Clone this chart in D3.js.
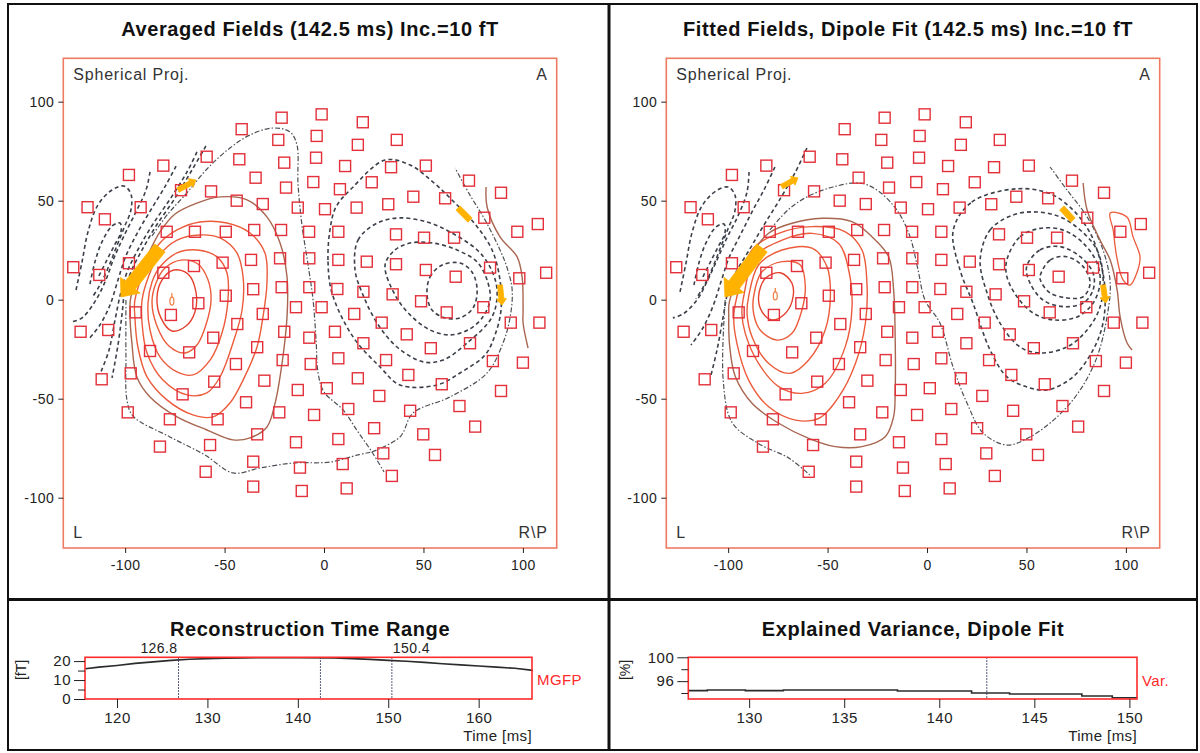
<!DOCTYPE html>
<html>
<head>
<meta charset="utf-8">
<title>Averaged and fitted fields</title>
<script src="https://cdn.jsdelivr.net/npm/d3@7"></script>
<style>
  body { margin: 0; background: #fff; }
  svg { display: block; font-family: "Liberation Sans", Arial, sans-serif; }
</style>
</head>
<body>
<svg id="chart" width="1200" height="753"></svg>
<script>
// ---------- data (map units: mm on the spherical projection) ----------
const mapXDomain = [-131.1, 117];
const mapYDomain = [121.9, -125.4];
const mapTicks = [-100, -50, 0, 50, 100];

// sensor positions, same for both maps
const sensorPos = [
  [-21.3,91.9],[-1.2,93.6],[-41.4,86.1],[-23.0,80.7],[-3.7,82.7],[17.0,78.2],[-59.0,72.2],[-42.6,70.9],[-20.0,69.2],[-4.0,71.7],
  [10.6,67.5],[-80.8,67.7],[-98.1,63.0],[-34.4,61.6],[-19.1,56.6],[-5.4,59.4],[8.0,55.8],[-56.8,54.7],[-71.9,55.3],[-118.9,46.7],
  [-110.2,40.6],[-92.2,46.7],[-43.9,50.0],[-30.8,48.3],[-13.2,46.5],[0.5,45.7],[16.4,46.5],[-79.1,34.3],[-64.9,34.3],[-49.4,34.3],
  [-35.1,35.2],[-21.6,35.2],[-7.5,34.3],[7.2,34.3],[-126.1,16.4],[-113.0,12.5],[-98.1,18.4],[-80.8,13.6],[-65.4,17.0],[-51.0,18.7],
  [-36.7,20.1],[-22.1,20.9],[-7.4,20.9],[7.2,20.1],[-49.4,2.0],[-35.6,5.3],[-21.3,6.3],[-7.4,6.3],[6.7,5.4],[-63.2,-1.8],
  [-77.0,-7.7],[-94.7,-6.4],[-122.4,-16.2],[-108.5,-15.3],[-30.8,-7.2],[-43.6,-12.3],[-14.1,-3.8],[-1.2,-3.8],[15.2,-7.2],[-20.0,-16.2],
  [-7.4,-19.2],[5.5,-16.2],[-55.7,-19.2],[-87.5,-25.9],[-67.8,-26.6],[-33.6,-24.0],[-44.3,-32.5],[-20.8,-30.5],[-6.7,-32.5],[7.2,-29.6],
  [17.0,-39.7],[-111.8,-40.2],[-97.2,-37.2],[-55.2,-41.4],[-30.0,-40.9],[-13.2,-45.6],[1.4,-44.7],[-71.1,-47.8],[-39.2,-51.8],[-22.5,-56.9],
  [-5.0,-58.2],[12.2,-55.2],[-98.7,-56.9],[-77.5,-60.4],[-53.5,-60.4],[-33.6,-68.0],[-14.1,-72.0],[7.2,-70.4],[-82.5,-74.2],[-57.3,-73.4],
  [-35.6,-81.8],[-12.1,-84.8],[9.4,-83.0],[-59.5,-86.9],[-35.6,-94.4],[-11.2,-96.6],[11.4,-95.3],
  [19.5,89.6],[36.6,80.7],[33.7,66.9],[51.2,67.7],[24.0,59.3],[44.9,52.0],[60.9,51.2],[72.9,60.1],[89.0,54.0],[32.3,48.2],
  [80.6,41.4],[97.2,34.3],[107.5,38.2],[36.2,33.0],[50.3,31.3],[65.4,31.3],[21.5,19.2],[36.2,17.9],[51.2,15.0],[66.2,11.6],
  [83.5,16.2],[98.2,10.8],[111.7,13.6],[19.8,4.0],[34.5,2.7],[48.8,-0.8],[61.7,-6.4],[80.1,-3.8],[93.9,-11.6],[108.3,-11.6],
  [29.0,-11.6],[41.6,-17.5],[53.7,-24.5],[73.4,-22.0],[84.9,-31.0],[100.0,-31.8],[19.8,-22.0],[31.2,-30.5],[42.4,-38.0],[59.2,-42.7],
  [89.0,-46.1],[27.8,-48.6],[43.3,-56.1],[68.1,-53.7],[25.2,-64.9],[49.9,-68.0],[76.0,-64.1],[29.8,-77.6],[55.8,-78.4],[34.1,-89.0]
];

// averaged fields: positive isofield lines (closed)
const avgPositive = [
  [[-81.5,9.9],[-75.5,15.0],[-68.4,13.0],[-64.4,3.9],[-64.9,-6.2],[-69.4,-13.3],[-76.5,-15.8],[-82.0,-9.2],[-84.0,0.9]],
  [[-84.5,8.4],[-80.0,16.0],[-71.9,20.0],[-63.4,18.0],[-58.3,9.9],[-56.8,-0.2],[-59.4,-12.8],[-63.9,-22.9],[-69.9,-26.9],[-78.0,-23.4],[-84.0,-13.3],[-86.5,-1.2]],
  [[-88.5,-1.7],[-86.5,8.9],[-82.5,16.5],[-73.9,23.6],[-63.9,25.1],[-53.8,21.6],[-48.8,13.5],[-48.3,-0.2],[-51.3,-16.8],[-57.3,-30.5],[-65.9,-38.0],[-73.9,-36.5],[-82.5,-28.9],[-87.5,-15.3]],
  [[-91.5,-0.2],[-91.5,-11.8],[-89.0,-26.9],[-81.0,-40.6],[-68.9,-48.1],[-58.9,-47.1],[-52.3,-39.0],[-45.8,-21.9],[-41.2,-5.2],[-40.7,11.5],[-43.8,23.6],[-52.3,31.2],[-62.4,32.7],[-73.9,30.1],[-83.5,21.6],[-88.5,11.0]],
  [[-95.1,-0.2],[-95.1,-8.7],[-93.6,-23.9],[-89.0,-39.0],[-79.0,-50.6],[-65.9,-58.2],[-55.8,-59.2],[-47.3,-52.2],[-40.7,-40.6],[-33.7,-23.9],[-30.7,-8.7],[-28.7,8.4],[-29.7,23.6],[-37.2,33.7],[-48.8,38.7],[-62.4,39.2],[-73.9,35.2],[-82.5,28.6],[-89.0,17.5]]
];
const avgPositiveOuter = [
  [-97.1,1.4],[-97.6,-6.7],[-96.6,-21.9],[-94.1,-39.0],[-87.5,-49.1],[-73.9,-59.2],[-58.9,-65.8],[-45.8,-70.8],[-37.2,-69.8],[-28.7,-64.3],
  [-24.6,-52.2],[-21.1,-32.0],[-18.6,-8.7],[-18.6,11.5],[-22.1,28.6],[-28.7,41.8],[-38.7,50.4],[-52.3,51.9],[-63.9,48.8],[-74.9,43.3],
  [-82.5,34.2],[-88.5,22.6]
];
// averaged fields: negative isofield lines, right hemisphere (closed)
const avgNegativeRight = [
  [[4.0,3.4],[2.0,20.0],[3.0,35.2],[6.0,46.8],[14.1,56.4],[30.7,70.5],[43.3,68.0],[54.8,59.4],[64.4,50.3],[75.5,38.7],[84.5,25.1],[88.5,9.9],[89.0,-5.2],[86.0,-17.8],[81.0,-27.9],[68.4,-37.0],[56.8,-43.1],[38.2,-43.1],[28.2,-34.0],[14.6,-18.8]],
  [[15.6,15.0],[17.1,30.1],[26.7,38.7],[38.2,41.3],[51.8,39.2],[63.4,34.2],[77.0,25.1],[83.5,16.5],[87.0,4.9],[84.5,-8.7],[71.9,-21.9],[59.9,-30.5],[49.8,-31.4],[36.7,-23.9],[26.7,-11.8],[19.6,2.4]],
  [[30.7,17.5],[35.7,25.1],[43.3,28.6],[54.8,28.6],[66.9,25.1],[77.0,19.0],[82.0,9.9],[83.5,-0.2],[79.5,-9.2],[72.4,-15.3],[63.4,-17.8],[53.3,-15.3],[43.3,-7.7],[35.7,2.4]],
  [[51.8,2.4],[53.3,11.5],[59.4,17.5],[68.4,18.5],[74.4,14.0],[77.0,4.9],[74.9,-4.2],[68.4,-9.2],[60.9,-9.2],[54.3,-5.2]]
];
// averaged fields: negative isofield lines, far left (open)
const avgNegativeLeft = [
  [[-59.4,77.6],[-66.4,65.5],[-75.5,50.4],[-84.5,37.2],[-91.5,25.1],[-97.1,14.0],[-100.1,4.9],[-101.6,-7.7],[-103.6,-22.9],[-106.6,-39.5]],
  [[-63.9,74.6],[-68.9,64.5],[-77.0,51.4],[-86.0,38.2],[-93.1,26.1],[-98.6,15.0],[-102.1,3.9],[-105.1,-10.3],[-108.1,-25.4],[-112.2,-36.5]],
  [[-74.4,67.5],[-79.5,57.9],[-86.5,46.3],[-93.6,34.2],[-99.6,22.1],[-103.6,10.0],[-107.6,-2.7],[-112.7,-12.8],[-118.7,-20.4]],
  [[-87.5,64.5],[-89.5,55.4],[-94.6,44.3],[-100.6,32.2],[-105.6,21.1],[-109.7,10.0],[-114.7,-0.2],[-121.7,-9.2],[-126.8,-11.2]],
  [[-124.7,4.9],[-121.7,19.0],[-118.7,34.2],[-113.7,47.8],[-106.6,55.4],[-100.6,57.4],[-97.1,53.4],[-97.1,45.3],[-100.6,36.2],[-104.6,26.1],[-108.6,16.0],[-112.7,7.4],[-116.7,0.9]],
  [[-117.7,7.9],[-115.2,19.0],[-111.7,29.1],[-106.6,37.2],[-102.6,38.7],[-102.1,34.2],[-105.6,27.1],[-109.7,19.0],[-113.2,12.0]]
];
// averaged fields: zero lines (open)
const avgZero = [
  [[-99.6,-0.2],[-99.6,-28.9],[-99.1,-50.6],[-96.1,-58.7],[-77.5,-69.3],[-59.9,-78.4],[-45.8,-87.5],[-32.2,-85.0],[-15.6,-82.5],[3.0,-82.0],[17.1,-78.4],[24.1,-76.9]],
  [[-86.5,32.2],[-78.5,43.3],[-69.4,53.4],[-58.4,66.5],[-47.3,76.6],[-37.2,83.2],[-25.7,86.7],[-17.1,84.7],[-13.6,78.1],[-13.1,58.9],[-11.1,37.7],[-8.0,17.5],[-5.5,-0.2],[-4.0,-20.4],[-3.0,-37.0],[0.0,-46.6],[9.6,-55.7],[17.1,-66.8],[24.1,-76.9],[30.2,-87.0]],
  [[24.1,-76.9],[38.2,-69.3],[44.8,-57.2],[63.4,-49.1],[82.0,-37.0],[90.0,-21.9],[93.6,-8.7],[94.6,4.9],[92.1,16.0],[88.5,25.1],[81.0,40.2],[73.4,52.8],[65.9,66.5]]
];
const avgPositiveEdge = [[81.5,56.9],[82.0,46.8],[88.5,31.7],[97.1,21.6],[99.6,11.5],[100.1,-5.2],[100.1,-11.8],[102.6,-24.4]];
const avgArrows = [
  { from: [-82.5,26.1], to: [-102.1,1.4], kind: 'large' },
  { from: [-73.4,55.4], to: [-64.4,60.4], kind: 'small' },
  { from: [67.4,46.3], to: [73.4,40.2], kind: 'bar' },
  { from: [88.5,7.4], to: [89.5,-2.7], kind: 'small' }
];
const avgDipole = [-76.5, -0.2];

// fitted fields
const fitPositive = [
  [[-84.7,1.5],[-81.3,10.8],[-73.8,13.6],[-67.9,8.3],[-67.9,-1.0],[-72.1,-7.7],[-78.0,-10.2],[-83.0,-6.0]],
  [[-87.2,1.5],[-83.0,14.1],[-72.9,19.2],[-63.7,17.5],[-61.2,6.6],[-62.9,-5.2],[-67.9,-17.0],[-75.5,-20.4],[-83.9,-15.3],[-87.2,-6.9]],
  [[-89.7,1.5],[-84.7,17.5],[-72.9,25.1],[-57.8,26.0],[-50.3,16.7],[-48.6,1.5],[-51.2,-15.3],[-59.5,-30.5],[-68.8,-37.2],[-79.6,-32.2],[-88.0,-18.7],[-90.5,-6.9]],
  [[-92.2,1.5],[-86.4,21.7],[-72.9,30.1],[-57.8,33.5],[-44.4,28.4],[-39.4,15.0],[-37.7,-3.5],[-41.1,-23.7],[-51.2,-42.2],[-62.9,-47.3],[-74.6,-43.9],[-84.7,-32.2],[-91.4,-17.0],[-93.1,-6.9]],
  [[-95.6,1.5],[-88.0,25.1],[-74.6,33.5],[-57.8,36.9],[-41.1,34.3],[-32.7,25.1],[-30.2,8.3],[-31.0,-11.9],[-36.0,-32.2],[-44.4,-49.1],[-54.5,-60.0],[-66.2,-60.8],[-79.6,-54.1],[-89.7,-40.6],[-95.6,-22.1],[-97.2,-8.6]]
];
const fitPositiveOuter = [
  [-79.5,33.7],[-67.9,38.6],[-52.8,41.1],[-37.7,39.4],[-27.7,31.8],[-19.3,21.7],[-16.8,4.9],[-16.0,-20.3],[-16.0,-45.6],[-16.8,-59.1],
  [-21.0,-69.2],[-32.7,-74.2],[-46.1,-74.2],[-59.5,-70.0],[-74.6,-62.4],[-88.0,-52.3],[-96.4,-38.8],[-99.2,-23.7],[-99.7,-8.6],[-99.2,-0.2],[-87.5,24.1]
];
const fitNegativeRight = [
  [[13.2,35.2],[22.5,49.3],[45.1,56.0],[61.9,53.5],[73.4,45.3],[82.0,33.7],[87.0,20.0],[89.5,4.9],[88.5,-11.8],[83.5,-25.4],[73.4,-39.0],[60.4,-45.6],[50.3,-44.1],[40.2,-39.0],[31.7,-25.4],[23.1,-1.7],[16.6,15.0]],
  [[26.7,20.0],[31.7,35.2],[43.3,42.8],[55.3,44.3],[66.9,41.8],[77.0,35.2],[85.5,25.1],[88.5,11.5],[87.0,-3.7],[80.5,-15.3],[70.4,-23.9],[56.8,-26.9],[46.8,-23.9],[36.7,-11.8],[30.2,3.4]],
  [[40.1,20.0],[46.8,31.8],[56.8,36.0],[68.4,35.2],[78.5,28.6],[85.5,18.5],[87.0,8.4],[83.5,-1.7],[75.5,-8.7],[63.4,-10.2],[53.3,-6.7],[45.3,1.4],[40.2,11.5]],
  [[50.1,16.7],[56.8,25.1],[66.9,26.8],[77.0,21.7],[83.5,13.5],[83.5,4.9],[78.5,-1.7],[68.4,-3.5],[58.4,-0.2],[51.8,8.4]],
  [[56.8,11.6],[61.9,20.0],[70.3,21.7],[78.5,16.7],[82.0,8.4],[78.5,1.5],[70.3,0.9],[61.9,3.4],[57.7,8.4]]
];
const fitNegativeLeft = [
  [[-60.4,76.6],[-66.4,64.0],[-74.4,50.0],[-82.5,36.9],[-89.5,24.9],[-96.1,13.8],[-100.1,3.9],[-102.6,-9.2],[-105.6,-25.4],[-108.6,-38.0]],
  [[-76.5,67.0],[-81.5,56.4],[-87.5,45.3],[-93.6,33.2],[-99.6,21.1],[-103.6,9.0],[-107.6,-3.2],[-112.7,-14.3],[-118.7,-22.9]],
  [[-89.5,64.5],[-90.5,54.4],[-94.6,43.3],[-100.6,31.2],[-105.6,20.1],[-110.7,9.0],[-115.7,-0.2],[-122.7,-7.2],[-127.8,-9.2]],
  [[-124.2,3.9],[-121.2,18.5],[-118.2,33.7],[-113.2,47.3],[-106.1,54.9],[-100.1,56.9],[-96.6,52.9],[-96.6,44.8],[-100.1,35.7],[-104.1,25.6],[-108.1,15.5],[-112.2,6.9],[-116.2,0.4]],
  [[-117.2,7.4],[-114.7,18.5],[-111.2,28.6],[-106.1,36.7],[-102.1,38.2],[-101.6,33.7],[-105.1,26.6],[-109.2,18.5],[-112.7,11.5]]
];
const fitZero = [
  [[-79.0,35.2],[-69.9,45.3],[-60.4,51.9],[-47.3,56.9],[-33.7,58.9],[-25.2,55.4],[-17.1,47.8],[-12.1,40.2],[-8.0,30.1],[-4.5,15.0],[-1.0,-0.2],[6.5,-11.8],[13.1,-34.0],[20.1,-52.2],[28.2,-67.3],[40.2,-73.4],[51.8,-69.3],[65.4,-59.2],[77.0,-45.6],[85.5,-28.9],[90.5,-8.7],[92.1,8.4],[88.5,25.1],[80.5,41.8],[70.4,55.4],[61.9,67.0]],
  [[-101.5,-0.2],[-102.5,-40.6],[-98.0,-62.0],[-85.0,-72.5],[-69.5,-80.0],[-59.0,-88.5]]
];
const fitPositiveEdge = [[78.5,58.9],[80.5,45.3],[87.0,30.1],[92.1,20.0],[95.6,4.9],[97.1,-8.7],[100.6,-21.9],[103.1,-25.4]];
const fitPositiveIsland = [[92.1,43.8],[100.5,41.8],[103.6,31.7],[107.1,21.6],[105.5,13.5],[102.1,7.4],[98.6,10.0],[95.4,21.6],[93.6,35.2]];
const fitArrows = [
  { from: [-83.0,26.1], to: [-101.6,1.4], kind: 'large' },
  { from: [-73.1,57.1], to: [-64.9,61.5], kind: 'small' },
  { from: [67.8,46.3], to: [73.4,40.2], kind: 'bar' },
  { from: [88.5,7.4], to: [89.9,-1.7], kind: 'small' }
];
const fitDipole = [-76.3, 2.4];

// time courses
const mgfpTime  = [116.5, 118, 120, 122, 124, 126, 128, 130, 132, 134, 136, 140, 144, 146, 148, 150, 152, 154, 156, 158, 160, 162, 164, 166];
const mgfpValue = [16.0, 16.8, 17.7, 18.8, 19.6, 20.4, 21.0, 21.3, 21.5, 21.7, 21.8, 21.8, 21.7, 21.3, 20.9, 20.4, 19.9, 19.3, 18.6, 18.0, 17.4, 16.8, 16.2, 15.1];
const rangeMarks = [126.8, 142.5, 150.4];
const varTime  = [126.8, 127.8, 129.8, 131.8, 137.8, 141.7, 143.7, 147.5, 149.1, 150.4];
const varValue = [94.4, 94.5, 94.4, 94.5, 94.35, 94.0, 93.85, 93.5, 93.2, 93.15];
const varMarks = [142.5];

// ---------- drawing ----------
const svg = d3.select('#chart');
svg.append('rect').attr('width', 1200).attr('height', 753).attr('fill', '#fff');

function styleAxis(sel, size) {
  sel.select('.domain').remove();
  sel.selectAll('.tick line').attr('stroke', '#222');
  sel.selectAll('.tick text').attr('fill', '#222').attr('font-size', size).attr('letter-spacing', 0.5);
  sel.attr('font-family', null);
}

function arrowPath(p0, p1, kind) {
  const spec = { large: [13, 15, 25], small: [5, 6, 10], bar: [6, 0, 0] }[kind];
  const [w, hl, hw] = spec;
  const dx = p1[0] - p0[0], dy = p1[1] - p0[1];
  const L = Math.hypot(dx, dy), ux = dx / L, uy = dy / L, nx = -uy, ny = ux;
  const nk = L - hl;
  const pts = [
    [p0[0] + nx * w / 2, p0[1] + ny * w / 2],
    [p0[0] + ux * nk + nx * w / 2, p0[1] + uy * nk + ny * w / 2]
  ];
  if (hl > 0) {
    pts.push([p0[0] + ux * nk + nx * hw / 2, p0[1] + uy * nk + ny * hw / 2]);
    pts.push([p1[0], p1[1]]);
    pts.push([p0[0] + ux * nk - nx * hw / 2, p0[1] + uy * nk - ny * hw / 2]);
  }
  pts.push([p0[0] + ux * nk - nx * w / 2, p0[1] + uy * nk - ny * w / 2]);
  pts.push([p0[0] - nx * w / 2, p0[1] - ny * w / 2]);
  return 'M' + pts.map(p => p.join(',')).join('L') + 'Z';
}

function drawMap(p) {
  const x = d3.scaleLinear().domain(mapXDomain).range([p.left, p.left + 493.4]);
  const y = d3.scaleLinear().domain(mapYDomain).range([58.3, 548]);
  const g = svg.append('g');

  g.append('text')
    .attr('x', p.titleX).attr('y', 36)
    .attr('text-anchor', 'middle')
    .attr('font-size', 20).attr('font-weight', 'bold').attr('letter-spacing', 0.6)
    .attr('fill', '#111')
    .text(p.title);

  svg.append('clipPath').attr('id', 'clip-' + p.id)
    .append('rect')
    .attr('x', x.range()[0]).attr('y', 58.3)
    .attr('width', 493.4).attr('height', 489.7);

  const body = g.append('g').attr('clip-path', `url(#clip-${p.id})`);
  const openLine = d3.line().x(d => x(d[0])).y(d => y(d[1])).curve(d3.curveCatmullRom.alpha(0.5));
  const loopLine = d3.line().x(d => x(d[0])).y(d => y(d[1])).curve(d3.curveCatmullRomClosed.alpha(0.5));

  // negative field, dashed
  body.selectAll(null).data(p.negLeft).join('path')
    .attr('d', openLine);
  body.selectAll(null).data(p.negRight).join('path')
    .attr('d', loopLine);
  body.selectAll('path')
    .attr('fill', 'none').attr('stroke', '#3b4049')
    .attr('stroke-width', 1.6).attr('stroke-dasharray', '4,3');

  // zero lines, dash-dot
  body.selectAll(null).data(p.zero).join('path')
    .attr('d', openLine)
    .attr('fill', 'none').attr('stroke', '#4d5157')
    .attr('stroke-width', 1.2).attr('stroke-dasharray', '5,2,1.5,2');

  // positive field, solid
  body.selectAll(null).data(p.pos).join('path')
    .attr('d', loopLine)
    .attr('fill', 'none')
    .attr('stroke', (d, i) => i === 0 ? '#e5402e' : '#ec5b3b')
    .attr('stroke-width', 1.4);
  body.append('path').datum(p.posOuter)
    .attr('d', loopLine)
    .attr('fill', 'none').attr('stroke', '#a8654f').attr('stroke-width', 1.4);
  body.append('path').datum(p.posEdge)
    .attr('d', openLine)
    .attr('fill', 'none').attr('stroke', '#a8654f').attr('stroke-width', 1.4);
  if (p.island) {
    body.append('path').datum(p.island)
      .attr('d', loopLine)
      .attr('fill', 'none').attr('stroke', '#ec5b3b').attr('stroke-width', 1.3);
  }

  // sensors
  body.selectAll(null).data(sensorPos).join('rect')
    .attr('x', d => x(d[0]) - 5.5).attr('y', d => y(d[1]) - 5.5)
    .attr('width', 11).attr('height', 11)
    .attr('fill', 'none').attr('stroke', '#e3303a').attr('stroke-width', 1.4);

  // current arrows
  body.selectAll(null).data(p.arrows).join('path')
    .attr('d', d => arrowPath([x(d.from[0]), y(d.from[1])], [x(d.to[0]), y(d.to[1])], d.kind))
    .attr('fill', '#ffb300').attr('stroke', '#ffb300').attr('stroke-width', 0.8)
    .attr('stroke-linejoin', 'round');

  // dipole location marker
  const dx = x(p.dipole[0]), dy = y(p.dipole[1]);
  body.append('ellipse').attr('cx', dx).attr('cy', dy + 1).attr('rx', 2).attr('ry', 4)
    .attr('fill', 'none').attr('stroke', '#f07a3a').attr('stroke-width', 1.2);
  body.append('line').attr('x1', dx).attr('x2', dx).attr('y1', dy - 3).attr('y2', dy - 7)
    .attr('stroke', '#f07a3a').attr('stroke-width', 1.2);

  // frame
  g.append('rect')
    .attr('x', x.range()[0]).attr('y', 58.3)
    .attr('width', 493.4).attr('height', 489.7)
    .attr('fill', 'none').attr('stroke', '#ee7a62').attr('stroke-width', 1.6);

  // axes (plain hyphen for negative labels, as in the original)
  const fmt = d => String(d);
  g.append('g').attr('transform', `translate(${x.range()[0]},0)`)
    .call(d3.axisLeft(y).tickValues(mapTicks).tickSize(5).tickPadding(4).tickFormat(fmt))
    .call(s => styleAxis(s, 14));
  g.append('g').attr('transform', 'translate(0,548)')
    .call(d3.axisBottom(x).tickValues(mapTicks).tickSize(5).tickPadding(7).tickFormat(fmt))
    .call(s => styleAxis(s, 14));

  // corner labels
  const corner = g.append('g').attr('font-size', 16).attr('fill', '#333').attr('letter-spacing', 0.8);
  corner.append('text').attr('x', x.range()[0] + 10).attr('y', 80).text('Spherical Proj.');
  corner.append('text').attr('x', x.range()[1] - 9).attr('y', 80).attr('text-anchor', 'end').text('A');
  corner.append('text').attr('x', x.range()[0] + 10).attr('y', 538).text('L');
  corner.append('text').attr('x', x.range()[1] - 9).attr('y', 538).attr('text-anchor', 'end').text('R\\P');
}

function drawTrace(p) {
  const x = d3.scaleLinear().domain(p.xDomain).range(p.xRange);
  const y = d3.scaleLinear().domain(p.yDomain).range([699, 657.3]);
  const g = svg.append('g');
  const [x0, x1] = p.xRange;

  g.append('text')
    .attr('x', p.titleX).attr('y', 636)
    .attr('text-anchor', 'middle')
    .attr('font-size', 20).attr('font-weight', 'bold').attr('letter-spacing', 0.6)
    .attr('fill', '#111')
    .text(p.title);

  // time course
  const line = d3.line().x(d => x(d[0])).y(d => y(d[1])).curve(p.curve);
  g.append('path').datum(d3.zip(p.time, p.value))
    .attr('d', line)
    .attr('fill', 'none').attr('stroke', '#2b2b2b').attr('stroke-width', 1.6);

  // time markers
  g.selectAll(null).data(p.marks).join('line')
    .attr('x1', d => x(d)).attr('x2', d => x(d))
    .attr('y1', 657.3).attr('y2', 699)
    .attr('stroke', '#202850').attr('stroke-width', 1).attr('stroke-dasharray', '1.5,1.5');
  g.selectAll(null).data(p.markLabels).join('text')
    .attr('x', d => x(d.t) + (d.anchor === 'end' ? -1 : 1))
    .attr('y', 653)
    .attr('text-anchor', d => d.anchor)
    .attr('font-size', 14).attr('letter-spacing', 0.4).attr('fill', '#222')
    .text(d => d.t.toFixed(1));

  // frame
  g.append('rect')
    .attr('x', x0).attr('y', 657.3).attr('width', x1 - x0).attr('height', 699 - 657.3)
    .attr('fill', 'none').attr('stroke', '#ff2a2a').attr('stroke-width', 1.6);

  // axes
  const ya = g.append('g').attr('transform', `translate(${x0},0)`)
    .call(d3.axisLeft(y).tickValues(p.yTicks).tickSize(11).tickPadding(3)
      .tickFormat(d => p.yLabelled.includes(d) ? d : ''))
    .call(s => styleAxis(s, 15));
  ya.selectAll('.tick line').attr('x2', d => p.yLabelled.includes(d) ? -11 : -7);
  g.append('g').attr('transform', 'translate(0,699)')
    .call(d3.axisBottom(x).tickValues(p.xTicks).tickSize(9).tickPadding(4))
    .call(s => styleAxis(s, 15));

  g.append('text')
    .attr('transform', `translate(${p.unitX},670) rotate(-90)`)
    .attr('text-anchor', 'middle').attr('dy', '0.35em')
    .attr('font-size', 14).attr('fill', '#222')
    .text(p.unit);
  g.append('text')
    .attr('x', x1 + 5).attr('y', p.seriesY)
    .attr('font-size', 15).attr('fill', '#ff2a2a').attr('letter-spacing', 0.4)
    .text(p.series);
  g.append('text')
    .attr('x', x1).attr('y', 741).attr('text-anchor', 'end')
    .attr('font-size', 15).attr('fill', '#222').attr('letter-spacing', 0.4)
    .text('Time [ms]');
}

drawMap({
  id: 'avg', left: 63.3, titleX: 310,
  title: 'Averaged Fields (142.5 ms) Inc.=10 fT',
  pos: avgPositive, posOuter: avgPositiveOuter, posEdge: avgPositiveEdge,
  negLeft: avgNegativeLeft, negRight: avgNegativeRight, zero: avgZero,
  arrows: avgArrows, dipole: avgDipole
});
drawMap({
  id: 'fit', left: 666.3, titleX: 908,
  title: 'Fitted Fields, Dipole Fit (142.5 ms) Inc.=10 fT',
  pos: fitPositive, posOuter: fitPositiveOuter, posEdge: fitPositiveEdge, island: fitPositiveIsland,
  negLeft: fitNegativeLeft, negRight: fitNegativeRight, zero: fitZero,
  arrows: fitArrows, dipole: fitDipole
});

drawTrace({
  title: 'Reconstruction Time Range', titleX: 310,
  xDomain: [116.46, 165.9], xRange: [85, 532], yDomain: [0, 22],
  xTicks: [120, 130, 140, 150, 160], yTicks: [0, 5, 10, 15, 20], yLabelled: [0, 10, 20],
  time: mgfpTime, value: mgfpValue, curve: d3.curveLinear,
  marks: rangeMarks,
  markLabels: [{ t: rangeMarks[0], anchor: 'end' }, { t: rangeMarks[2], anchor: 'start' }],
  unit: '[fT]', unitX: 21, series: 'MGFP', seriesY: 685
});
drawTrace({
  title: 'Explained Variance, Dipole Fit', titleX: 913,
  xDomain: [126.8, 150.4], xRange: [688.3, 1137], yDomain: [93, 100],
  xTicks: [130, 135, 140, 145, 150], yTicks: [94, 96, 98, 100], yLabelled: [96, 100],
  time: varTime, value: varValue, curve: d3.curveStepAfter,
  marks: varMarks, markLabels: [],
  unit: '[%]', unitX: 625, series: 'Var.', seriesY: 686
});

// panel borders
const border = svg.append('g').attr('fill', 'none').attr('stroke', '#111');
border.append('rect').attr('x', 8).attr('y', 4).attr('width', 1189).attr('height', 746).attr('stroke-width', 2);
border.append('line').attr('x1', 609).attr('x2', 609).attr('y1', 4).attr('y2', 750).attr('stroke-width', 3);
border.append('line').attr('x1', 8).attr('x2', 1197).attr('y1', 599.5).attr('y2', 599.5).attr('stroke-width', 3);
</script>
</body>
</html>
